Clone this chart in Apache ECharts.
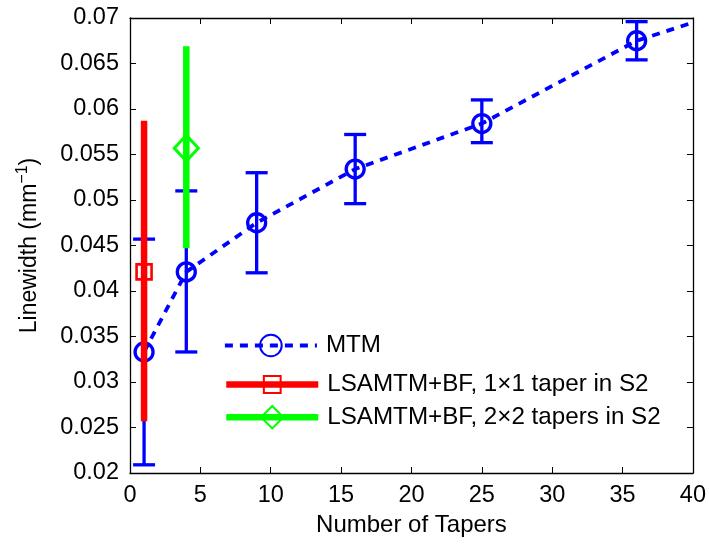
<!DOCTYPE html>
<html>
<head>
<meta charset="utf-8">
<script src="https://cdn.jsdelivr.net/npm/echarts@6/dist/echarts.min.js"></script>
<style>
  html, body { margin: 0; padding: 0; background: #ffffff; }
  #chart { width: 709px; height: 546px; }
</style>
</head>
<body>
<div id="chart"></div>
<script>
// Linewidth estimates versus number of tapers
const mtmTapers = [1, 4, 9, 16, 25, 36];
const mtmMean   = [0.0333, 0.0421, 0.0475, 0.0534, 0.0584, 0.0675];
const mtmLow    = [0.0209, 0.0333, 0.0420, 0.0496, 0.0563, 0.0654];
const mtmHigh   = [0.0457, 0.0510, 0.0530, 0.0572, 0.0610, 0.0696];
// trend of the MTM curve at the right edge of the axis
const mtmTrendEnd = [40, 0.0695];

const lsa1Tapers = [1];
const lsa1Mean   = [0.0421];
const lsa1Low    = [0.0257];
const lsa1High   = [0.0587];

const lsa2Tapers = [4];
const lsa2Mean   = [0.0557];
const lsa2Low    = [0.0447];
const lsa2High   = [0.0669];

const seriesNames = ['MTM', 'LSAMTM+BF, 1×1 taper in S2', 'LSAMTM+BF, 2×2 tapers in S2'];

const xRange = { min: 0, max: 40, interval: 5 };
const yRange = { min: 0.02, max: 0.07, interval: 0.005 };

const BLUE = '#0000ff', RED = '#ff0000', GREEN = '#00ff00';
const FONT = 'Liberation Sans, Arial, Helvetica, sans-serif';
const TICK_FS = 23.5;
const NAME_FS = 24;
const LEGEND_FS = 24.2;
const DASH = [8, 7];

function zip(xs, ...cols) {
  return xs.map((x, i) => [x, ...cols.map(c => c[i])]);
}

// vertical error bar with optional caps, drawn through the axis scales
function errorBars(color, width, capHalf) {
  return function (params, api) {
    const x = api.value(0);
    const lo = api.coord([x, api.value(1)]);
    const hi = api.coord([x, api.value(2)]);
    const style = { stroke: color, lineWidth: width };
    const children = [{ type: 'line', shape: { x1: hi[0], y1: hi[1], x2: lo[0], y2: lo[1] }, style }];
    if (capHalf > 0) {
      children.push({ type: 'line', shape: { x1: hi[0] - capHalf, y1: hi[1], x2: hi[0] + capHalf, y2: hi[1] }, style });
      children.push({ type: 'line', shape: { x1: lo[0] - capHalf, y1: lo[1], x2: lo[0] + capHalf, y2: lo[1] }, style });
    }
    return { type: 'group', children };
  };
}

const mtmLine = zip(mtmTapers, mtmMean).map(p => ({ value: p }));
mtmLine.push({ value: mtmTrendEnd, symbol: 'none' });

const boxAxisCommon = {
  axisLine: { show: true, onZero: false, lineStyle: { color: '#000', width: 1.3 } },
  axisTick: { show: true, inside: true, length: 6, lineStyle: { color: '#000', width: 1 } },
  splitLine: { show: false }
};

function legendRow(name, centerY, itemHeight, lineStyle) {
  return {
    data: [name], left: 218, top: centerY - itemHeight / 2,
    itemWidth: 92, itemHeight: itemHeight,
    lineStyle: lineStyle,
    textStyle: { color: '#000', fontSize: LEGEND_FS, fontFamily: FONT, padding: [0, 0, 0, 4] },
    selectedMode: false
  };
}

const chart = echarts.init(document.getElementById('chart'), null, { renderer: 'canvas' });

chart.setOption({
  animation: false,
  backgroundColor: '#ffffff',
  textStyle: { fontFamily: FONT },
  grid: { left: 130, right: 14, top: 18, bottom: 73, containLabel: false },
  xAxis: [
    Object.assign({
      type: 'value', position: 'bottom',
      min: xRange.min, max: xRange.max, interval: xRange.interval,
      name: 'Number of Tapers', nameLocation: 'middle', nameGap: 39,
      nameTextStyle: { color: '#000', fontSize: NAME_FS, fontFamily: FONT },
      axisLabel: { color: '#000', fontSize: TICK_FS, fontFamily: FONT, margin: 11 }
    }, boxAxisCommon),
    Object.assign({
      type: 'value', position: 'top',
      min: xRange.min, max: xRange.max, interval: xRange.interval,
      axisLabel: { show: false }
    }, boxAxisCommon)
  ],
  yAxis: [
    Object.assign({
      type: 'value', position: 'left',
      min: yRange.min, max: yRange.max, interval: yRange.interval,
      name: '{a|Linewidth (mm}{s|−1}{a|)}', nameLocation: 'middle', nameGap: 86, nameRotate: 90,
      nameTextStyle: {
        color: '#000', fontFamily: FONT,
        rich: {
          a: { fontSize: NAME_FS - 1, fontFamily: FONT, color: '#000' },
          s: { fontSize: 16, fontFamily: FONT, color: '#000', padding: [0, 0, 13, 0] }
        }
      },
      axisLabel: {
        color: '#000', fontSize: TICK_FS, fontFamily: FONT, margin: 11,
        formatter: v => String(+v.toFixed(3))
      }
    }, boxAxisCommon),
    Object.assign({
      type: 'value', position: 'right',
      min: yRange.min, max: yRange.max, interval: yRange.interval,
      axisLabel: { show: false }
    }, boxAxisCommon)
  ],
  legend: [
    legendRow(seriesNames[0], 342, 27, { color: BLUE, width: 3.8, type: DASH }),
    legendRow(seriesNames[1], 378, 21, { color: RED, width: 6.5, type: 'solid' }),
    legendRow(seriesNames[2], 414, 28, { color: GREEN, width: 6.5, type: 'solid' })
  ],
  series: [
    {
      name: 'MTM bars', type: 'custom', z: 2,
      renderItem: errorBars(BLUE, 3.3, 11),
      encode: { x: 0, y: [1, 2] },
      data: zip(mtmTapers, mtmLow, mtmHigh)
    },
    {
      name: seriesNames[0], type: 'line', z: 3,
      data: mtmLine,
      symbol: 'circle', symbolSize: 18,
      itemStyle: { color: 'rgba(255,255,255,0)', borderColor: BLUE, borderWidth: 3.3 },
      lineStyle: { color: BLUE, width: 3.8, type: DASH }
    },
    {
      name: '1x1 bars', type: 'custom', z: 4,
      renderItem: errorBars(RED, 6.5, 0),
      encode: { x: 0, y: [1, 2] },
      data: zip(lsa1Tapers, lsa1Low, lsa1High)
    },
    {
      name: seriesNames[1], type: 'line', z: 5,
      data: zip(lsa1Tapers, lsa1Mean),
      symbol: 'rect', symbolSize: 15,
      itemStyle: { color: 'rgba(255,255,255,0)', borderColor: RED, borderWidth: 2.6 },
      lineStyle: { color: RED, width: 6.5 }
    },
    {
      name: '2x2 bars', type: 'custom', z: 4,
      renderItem: errorBars(GREEN, 6.5, 0),
      encode: { x: 0, y: [1, 2] },
      data: zip(lsa2Tapers, lsa2Low, lsa2High)
    },
    {
      name: seriesNames[2], type: 'line', z: 5,
      data: zip(lsa2Tapers, lsa2Mean),
      symbol: 'diamond', symbolSize: [24, 26],
      itemStyle: { color: 'rgba(255,255,255,0)', borderColor: GREEN, borderWidth: 3 },
      lineStyle: { color: GREEN, width: 6.5 }
    }
  ]
});
</script>
</body>
</html>
